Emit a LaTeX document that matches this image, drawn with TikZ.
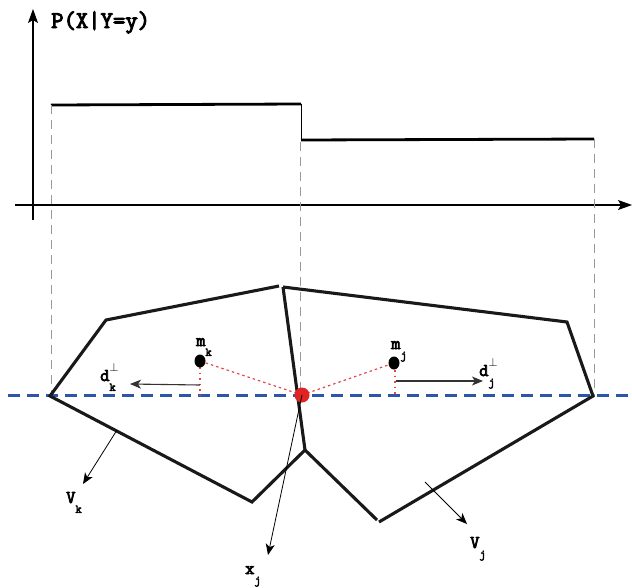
\documentclass[tikz,border=0pt]{standalone}
\usepackage{fontspec}
\newfontfamily\lblfont{Latin Modern Mono}[FakeBold=4]
\usetikzlibrary{arrows.meta}
\definecolor{lineblue}{RGB}{45,85,170}
\definecolor{dotred}{RGB}{225,35,35}
\definecolor{tickred}{RGB}{230,70,70}
\newcommand{\lowsub}[1]{\raisebox{-0.55em}{\fontsize{12}{12}\selectfont #1}}
\begin{document}
\begin{tikzpicture}[x=1pt,y=-1pt,
  axis/.style={line width=1.1pt,-{Stealth[length=14pt,width=10pt,inset=3pt]}},
  stepline/.style={line width=2.8pt},
  guide/.style={gray!80,line width=0.9pt,dash pattern=on 9pt off 6pt},
  blueline/.style={draw=lineblue,line width=3pt,dash pattern=on 12pt off 7pt},
  poly/.style={line width=3.1pt,line join=miter,black!90},
  thinarr/.style={line width=0.8pt,-{Stealth[length=11pt,width=9pt,inset=3pt]}},
  redtick/.style={draw=tickred,line width=1.2pt,dash pattern=on 2.5pt off 3pt},
  lbl/.style={font=\lblfont\fontsize{18}{18}\selectfont,inner sep=0pt}
]
\useasboundingbox (0,0) rectangle (632,587);
% axes
\coordinate (yb) at (33,220);
\coordinate (yt) at (33,9);
\coordinate (xl) at (15,205);
\coordinate (xr) at (632,205);
\draw[axis] (yb) -- (yt);
\draw[axis] (xl) -- (xr);
\node[anchor=base west,inner sep=0pt,font=\lblfont\fontsize{24}{24}\selectfont] (title) at (51,28) {P(X|Y=y)};
% step function
\coordinate (s1) at (51,105);
\coordinate (s2) at (301,104);
\coordinate (s3) at (301,140);
\coordinate (s4) at (594,139);
\draw[stepline] (s1) -- (s2);
\draw[line width=1pt] (s2) -- (s3);
\draw[stepline] (s3) -- (s4);
% guides
\coordinate (g1) at (51,396);
\coordinate (g2) at (300,396);
\coordinate (g2t) at (300,142);
\coordinate (g3) at (594,396);
\draw[guide] (s1) -- (g1);
\draw[guide] (g2t) -- (g2);
\draw[guide] (s4) -- (g3);
% blue line
\coordinate (bl) at (8,395);
\coordinate (br) at (632,395);
\draw[blueline] (bl) -- (br);
% polygons
\coordinate (A) at (50,396);
\coordinate (B) at (106,320);
\coordinate (C) at (279,286);
\coordinate (T) at (283,287);
\coordinate (M) at (305,450);
\coordinate (L) at (252,502);
\coordinate (D) at (567,322);
\coordinate (E) at (593,396);
\coordinate (F) at (379,522);
\coordinate (Fp) at (377,520);
\draw[poly] (C) -- (B) -- (A) -- (L) -- (M);
\draw[poly] (T) -- (M);
\draw[poly] (T) -- (D) -- (E) -- (F);
\draw[poly] (M) -- (Fp);
% red dotted lines and dashes
\coordinate (R) at (302,395);
\coordinate (mk) at (200,361);
\coordinate (mj) at (394,363);
\coordinate (mkt) at (200,367);
\coordinate (mjt) at (395,370);
\coordinate (mkb) at (200,398);
\coordinate (mjb) at (395,397);
\draw[redtick] (R) -- (mk);
\draw[redtick] (R) -- (mj);
\draw[redtick,dash pattern=on 1.5pt off 4pt] (mkt) -- (mkb);
\draw[redtick,dash pattern=on 1.5pt off 4pt] (mjt) -- (mjb);
\fill[black] (mk) ellipse (5.5pt and 6.5pt);
\fill[black] (mj) ellipse (5.5pt and 6.5pt);
\fill[dotred] (R) circle (7.5pt);
% d arrows
\coordinate (dks) at (200,385);
\coordinate (dke) at (130,384);
\coordinate (djs) at (396,381);
\coordinate (dje) at (483,381);
\draw[thinarr,black!80,line width=1.1pt] (dks) -- (dke);
\draw[thinarr,black!80,line width=1.1pt] (djs) -- (dje);
% other arrows
\coordinate (vks) at (117,430);
\coordinate (vke) at (83,484);
\coordinate (xje) at (268,555);
\coordinate (vjs) at (425,482);
\coordinate (vje) at (467,524);
\draw[thinarr] (vks) -- (vke);
\draw[thinarr] (R) -- (xje);
\draw[thinarr] (vjs) -- (vje);
% labels
\node[lbl,anchor=base west] (lmk) at (196,346) {m\lowsub{k}};
\node[lbl,anchor=base west] (lmj) at (391,349) {m\lowsub{j}};
\node[lbl,anchor=base west] (ldk) at (100,381) {d\rlap{\raisebox{0.55em}{\fontsize{13}{13}\selectfont$\perp$}}\lowsub{k}};
\node[lbl,anchor=base west] (ldj) at (479,376) {d\rlap{\raisebox{0.55em}{\fontsize{13}{13}\selectfont$\perp$}}\lowsub{j}};
\node[lbl,anchor=base west] (lvk) at (66,503) {V\lowsub{k}};
\node[lbl,anchor=base west] (lvj) at (470,548) {V\lowsub{j}};
\node[lbl,anchor=base west] (lxj) at (245,574) {x\lowsub{j}};
\end{tikzpicture}
\end{document}
